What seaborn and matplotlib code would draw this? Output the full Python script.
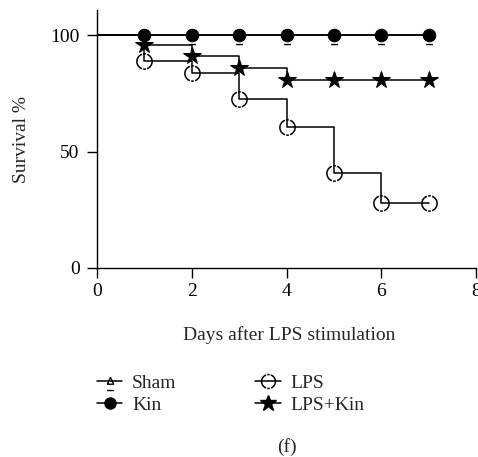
import numpy as np
import matplotlib
matplotlib.use("Agg")
import matplotlib.pyplot as plt
from matplotlib.path import Path
from matplotlib.lines import Line2D
import seaborn as sns

days = [0, 1, 2, 3, 4, 5, 6, 7]
sham = [100, 100, 100, 100, 100, 100, 100, 100]
kin = [100, 100, 100, 100, 100, 100, 100, 100]
lps = [100, 89, 84, 72.5, 60.5, 41, 28, 28]
lps_kin = [100, 95.8, 91, 86, 81, 81, 81, 81]
x_ticks = [0, 2, 4, 6, 8]
y_ticks = [0, 50, 100]

sns.set_theme(style="ticks")
plt.rcParams["font.family"] = ["Liberation Serif", "DejaVu Serif"]
FS = 14


def arc(t0, t1, n=12):
    t = np.radians(np.linspace(t0, t1, n))
    return np.column_stack([np.cos(t), np.sin(t)])


# dashed open circle marker
verts, codes = [], []
for a0, a1 in [(110, 250), (-70, 70), (80, 100), (260, 280)]:
    pts = arc(a0, a1)
    verts.extend(pts.tolist())
    codes.extend([Path.MOVETO] + [Path.LINETO] * (len(pts) - 1))
dashed_circle = Path(verts, codes)

# Sham marker: small open triangle with underline below
tri_v = [(-0.35, -0.3), (0, 0.45), (0.35, -0.3), (-0.35, -0.3), (-0.38, -1.0), (0.38, -1.0)]
tri_c = [Path.MOVETO, Path.LINETO, Path.LINETO, Path.LINETO, Path.MOVETO, Path.LINETO]
sham_marker = Path(tri_v, tri_c)

fig = plt.figure(figsize=(4.78, 4.57), dpi=100)
ax = fig.add_axes([0.203, 0.4136, 0.793, 0.565])

mk = list(range(1, 8))
common = dict(ax=ax, color="black", linewidth=1.1, drawstyle="steps-post",
              markevery=mk, estimator=None, legend=False)
sns.lineplot(x=days, y=sham, marker=sham_marker, markersize=13,
             markerfacecolor="none", markeredgecolor="black", markeredgewidth=1.0, **common)
sns.lineplot(x=days, y=lps, marker=dashed_circle, markersize=11,
             markerfacecolor="none", markeredgecolor="black", markeredgewidth=1.1, **common)
sns.lineplot(x=days, y=lps_kin, marker="*", markersize=13,
             markerfacecolor="black", markeredgecolor="black", **common)
sns.lineplot(x=days, y=kin, marker="o", markersize=9,
             markerfacecolor="black", markeredgecolor="black", **common)

ax.set_xlim(0, 8)
ax.set_ylim(0, 111)
ax.set_xticks(x_ticks)
ax.set_yticks(y_ticks)
ax.spines["top"].set_visible(False)
ax.spines["right"].set_visible(False)
for s in ["left", "bottom"]:
    ax.spines[s].set_linewidth(1.0)
    ax.spines[s].set_color("black")
ax.tick_params(direction="out", length=7.5, width=1.0, labelsize=FS, colors="black")
ax.tick_params(axis="y", pad=5)
ax.tick_params(axis="x", pad=3)
ax.set_xlabel("")
ax.set_ylabel("")

fig.text(22 / 478, 1 - 139 / 457, "Survival %", rotation=90, ha="center", va="center", fontsize=FS)
fig.text(0.604, 1 - 335 / 457, "Days after LPS stimulation", ha="center", va="center", fontsize=FS)
fig.text(0.6, 1 - 447 / 457, "(f)", ha="center", va="center", fontsize=FS)

handles = [
    Line2D([], [], color="black", lw=1.1, marker=sham_marker, ms=13, mfc="none", mew=1.0),
    Line2D([], [], color="black", lw=1.1, marker="o", ms=8, mfc="black"),
    Line2D([], [], color="black", lw=1.1, marker=dashed_circle, ms=10, mfc="none", mew=1.1),
    Line2D([], [], color="black", lw=1.1, marker="*", ms=12, mfc="black"),
]
labels = ["Sham", "Kin", "LPS", "LPS+Kin"]
fig.legend(handles, labels, ncol=2, loc="upper left", bbox_to_anchor=(97 / 478, 1 - 374 / 457),
           frameon=False, fontsize=FS, handlelength=1.3, handletextpad=0.5,
           columnspacing=4.05, labelspacing=0.25, borderpad=0, borderaxespad=0)

fig.savefig("out.png", dpi=100)
